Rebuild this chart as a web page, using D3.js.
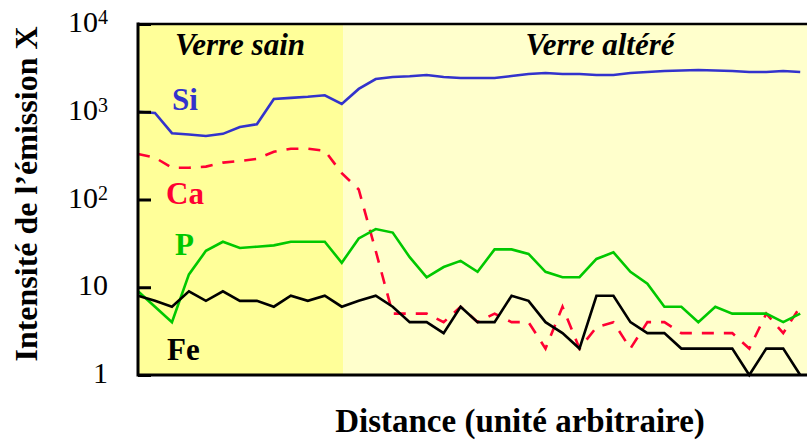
<!DOCTYPE html>
<html>
<head>
<meta charset="utf-8">
<script src="https://cdn.jsdelivr.net/npm/d3@7"></script>
<style>
  html, body { margin: 0; padding: 0; background: #ffffff; }
  svg { display: block; }
  text { font-family: "Liberation Serif", "Times New Roman", serif; }
</style>
</head>
<body>
<svg id="chart" width="807" height="441"></svg>
<script>
// Measurement positions along the profile (arbitrary distance units)
const positions = d3.range(40);

// X-ray emission intensity per element at each position
const siValues = [1000, 970, 570, 550, 530, 560, 670, 720, 1400, 1440, 1480, 1540, 1230, 1820,
  2360, 2490, 2540, 2620, 2490, 2420, 2420, 2420, 2550, 2690, 2760, 2690, 2690, 2620, 2620, 2760,
  2840, 2910, 2950, 2990, 2950, 2910, 2840, 2840, 2910, 2840];
const caValues = [330, 300, 230, 230, 237, 263, 275, 290, 350, 379, 379, 360, 200, 130,
  26, 5, 5, 5, 4, 6, 4, 5, 4, 4, 2, 6, 2, 3.5, 4, 2,
  4, 4, 3, 3, 3, 3, 2, 5, 3, 6];
const pValues = [9, 6, 4, 14, 26, 33, 28, 29, 30, 33, 33, 33, 19, 36,
  46, 42, 22, 13, 17, 20, 15, 27, 27, 24, 15, 13, 13, 21, 25, 15,
  11, 6, 6, 4, 6, 5, 5, 5, 4, 5];
const feValues = [8, 7, 6, 9, 7, 9, 7, 7, 6, 8, 7, 8, 6, 7,
  8, 6, 4, 4, 3, 6, 4, 4, 8, 7, 4, 3, 2, 8, 8, 4,
  3, 3, 2, 2, 2, 2, 1, 2, 2, 1];

// Element names, in drawing order
const elements = ["Si", "Ca", "P", "Fe"];

// Zones of the glass along the profile
const zoneNames = ["Verre sain", "Verre altéré"];
const zoneBounds = [0, 12.1, 39.4];

// Logarithmic axis ticks
const yTicks = [1, 10, 100, 1000, 10000];

const series = [
  { name: elements[0], values: siValues, color: "#3333cc", dash: null, label: [172, 110] },
  { name: elements[1], values: caValues, color: "#ff0033", dash: "12,10", label: [166, 204] },
  { name: elements[2], values: pValues,  color: "#00c800", dash: null, label: [175, 255] },
  { name: elements[3], values: feValues, color: "#000000", dash: null, label: [167, 360] }
];

const svg = d3.select("#chart");
const plotLeft = 138, plotRight = 807, plotTop = 24, plotBottom = 375;

const x = d3.scaleLinear().domain([zoneBounds[0], zoneBounds[2]]).range([plotLeft, plotRight]);
const y = d3.scaleLog().domain([1, 10000]).range([plotBottom, plotTop]);

// Zone backgrounds
const zoneFill = ["#ffff99", "#ffffcc"];
const zoneLabelX = [240, 600];
zoneNames.forEach((name, i) => {
  svg.append("rect")
    .attr("x", x(zoneBounds[i]))
    .attr("y", plotTop)
    .attr("width", x(zoneBounds[i + 1]) - x(zoneBounds[i]))
    .attr("height", plotBottom - plotTop)
    .attr("fill", zoneFill[i]);
  svg.append("text")
    .attr("x", zoneLabelX[i])
    .attr("y", 55)
    .attr("text-anchor", "middle")
    .attr("font-size", 31)
    .attr("font-weight", "bold")
    .attr("font-style", "italic")
    .attr("fill", "#000")
    .text(name);
});

// Element curves
const line = d3.line()
  .x((d, i) => x(positions[i]))
  .y(d => y(d));

series.forEach(s => {
  svg.append("path")
    .datum(s.values)
    .attr("d", line)
    .attr("fill", "none")
    .attr("stroke", s.color)
    .attr("stroke-width", 2.6)
    .attr("stroke-linejoin", "miter")
    .attr("stroke-dasharray", s.dash);
  svg.append("text")
    .attr("x", s.label[0])
    .attr("y", s.label[1])
    .attr("font-size", 31)
    .attr("font-weight", "bold")
    .attr("fill", s.color)
    .text(s.name);
});

// Y axis with inward ticks and power-of-ten labels
const yAxis = d3.axisLeft(y)
  .tickValues(yTicks)
  .tickSizeInner(-13)
  .tickSizeOuter(0)
  .tickFormat(() => "");
const gy = svg.append("g").attr("transform", `translate(${plotLeft},0)`).call(yAxis);
gy.select(".domain").remove();
gy.selectAll(".tick line").attr("stroke", "#000").attr("stroke-width", 3);
gy.selectAll(".tick").each(function (d) {
  const g = d3.select(this);
  g.select("text").remove();
  const exp = Math.round(Math.log10(d));
  const t = g.append("text")
    .attr("x", -30)
    .attr("y", 7.5)
    .attr("text-anchor", "end")
    .attr("font-size", 30)
    .attr("fill", "#000");
  if (exp <= 1) {
    t.text(String(d));
  } else {
    t.append("tspan").text("10");
    t.append("tspan").attr("font-size", 20).attr("dy", -8).text(String(exp));
  }
});

// Frame: left axis, bottom axis, top border
svg.append("line").attr("x1", plotLeft).attr("x2", plotLeft).attr("y1", plotTop - 1.5).attr("y2", plotBottom + 1.5)
  .attr("stroke", "#000").attr("stroke-width", 3);
svg.append("line").attr("x1", plotLeft).attr("x2", plotRight).attr("y1", plotBottom).attr("y2", plotBottom)
  .attr("stroke", "#000").attr("stroke-width", 3);
svg.append("line").attr("x1", plotLeft).attr("x2", plotRight).attr("y1", plotTop).attr("y2", plotTop)
  .attr("stroke", "#000").attr("stroke-width", 2.5);

// Axis titles
svg.append("text")
  .attr("transform", "translate(37,194) rotate(-90)")
  .attr("text-anchor", "middle")
  .attr("font-size", 32)
  .attr("font-weight", "bold")
  .attr("fill", "#000")
  .text("Intensité de l’émission X");

svg.append("text")
  .attr("x", 520)
  .attr("y", 432)
  .attr("text-anchor", "middle")
  .attr("font-size", 33)
  .attr("font-weight", "bold")
  .attr("fill", "#000")
  .text("Distance (unité arbitraire)");
</script>
</body>
</html>
